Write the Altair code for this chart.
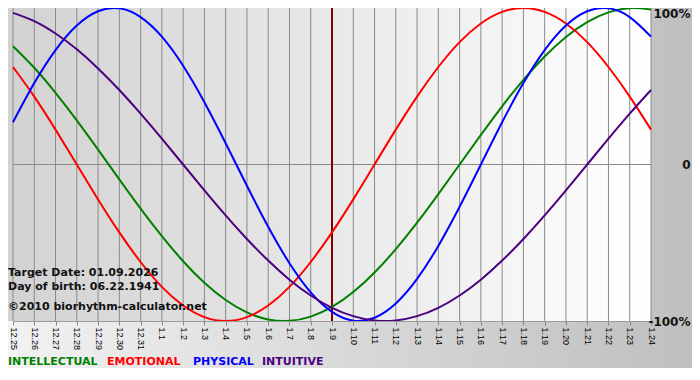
import altair as alt
import pandas as pd

# ---- data ----
day_labels = ["12.25", "12.26", "12.27", "12.28", "12.29", "12.30", "12.31",
              "1.1", "1.2", "1.3", "1.4", "1.5", "1.6", "1.7", "1.8", "1.9",
              "1.10", "1.11", "1.12", "1.13", "1.14", "1.15", "1.16", "1.17",
              "1.18", "1.19", "1.20", "1.21", "1.22", "1.23", "1.24"]

intellectual = [75.6, 61.8, 45.8, 28.2, 9.5, -9.5, -28.2, -45.8, -61.8, -75.6,
                -86.6, -94.5, -99.0, -99.9, -97.2, -91.0, -81.5, -69.0, -54.1,
                -37.2, -18.9, 0, 18.9, 37.2, 54.1, 69.0, 81.5, 91.0, 97.2, 99.9, 99.0]
emotional = [62.3, 43.4, 22.3, 0, -22.3, -43.4, -62.3, -78.2, -90.1, -97.5, -100,
             -97.5, -90.1, -78.2, -62.3, -43.4, -22.3, 0, 22.3, 43.4, 62.3, 78.2,
             90.1, 97.5, 100, 97.5, 90.1, 78.2, 62.3, 43.4, 22.3]
physical = [27.0, 52.0, 73.1, 88.8, 97.9, 99.8, 94.2, 81.7, 63.1, 39.8, 13.6,
            -13.6, -39.8, -63.1, -81.7, -94.2, -99.8, -97.9, -88.8, -73.1, -52.0,
            -27.0, 0, 27.0, 52.0, 73.1, 88.8, 97.9, 99.8, 94.2, 81.7]
intuitive = [96.9, 91.6, 83.7, 73.6, 61.4, 47.6, 32.5, 16.5, 0, -16.5, -32.5,
             -47.6, -61.4, -73.6, -83.7, -91.6, -96.9, -99.7, -99.7, -96.9, -91.6,
             -83.7, -73.6, -61.4, -47.6, -32.5, -16.5, 0, 16.5, 32.5, 47.6]

series_names = ["INTELLECTUAL", "EMOTIONAL", "PHYSICAL", "INTUITIVE"]
series_colors = ["#008000", "#ff0000", "#0000ff", "#4b0082"]
target_label = "1.9"
y_ticks = [-100, 0, 100]
info_lines = ["Target Date: 01.09.2026", "Day of birth: 06.22.1941",
              "\u00a92010 biorhythm-calculator.net"]

# ---- layout ----
PAD_L = 5
W, H = 638, 313
PAD_R, PAD_B = 41, 47
FONT = "DejaVu Sans"

rows = []
for name, vals in zip(series_names, [intellectual, emotional, physical, intuitive]):
    for i, v in enumerate(vals):
        rows.append({"idx": i, "series": name, "value": v})
lines_df = pd.DataFrame(rows)
grid_df = pd.DataFrame({"idx": list(range(len(day_labels)))})
zero_df = pd.DataFrame({"value": [0]})
target_df = pd.DataFrame({"idx": [day_labels.index(target_label)]})
one = pd.DataFrame({"a": [0]})

xscale = alt.Scale(domain=[0, len(day_labels) - 1], nice=False, zero=False)
yscale = alt.Scale(domain=[-100, 100], nice=False)

label_arr = "[" + ",".join("'%s'" % l for l in day_labels) + "]"

xaxis = alt.Axis(values=list(range(len(day_labels))),
                 labelExpr=label_arr + "[datum.value]",
                 labelAngle=90, labelFont="Liberation Sans", labelFontSize=9,
                 labelColor="#000000", labelOverlap=False, labelFlush=False,
                 labelPadding=2, tickSize=4, tickColor="#888888",
                 domainColor="#9a9a9a", grid=False, title=None, zindex=1)
yaxis = alt.Axis(orient="right", values=y_ticks,
                 labelExpr="datum.value == 0 ? '0' : datum.value + '%'",
                 labelFont=FONT, labelFontWeight="bold", labelFontSize=12,
                 labelColor="#111111", labelAlign="right",
                 labelBaseline={"expr": "datum.value == 100 ? 'top' : 'middle'"},
                 labelPadding=39, ticks=False, tickSize=0, domain=False,
                 grid=False, title=None, labelOverlap=False, labelFlush=False,
                 zindex=1)

outer_grad = alt.LinearGradient(gradient="linear", x1=0, x2=1, y1=0, y2=0,
                                stops=[alt.GradientStop(color="#f2f2f2", offset=0),
                                       alt.GradientStop(color="#bfbfbf", offset=1)])
plot_grad = alt.LinearGradient(gradient="linear", x1=0, x2=1, y1=0, y2=0,
                               stops=[alt.GradientStop(color="#d2d2d2", offset=0),
                                      alt.GradientStop(color="#ffffff", offset=1)])

outer_bg = alt.Chart(one).mark_rect(fill=outer_grad, clip=False).encode(
    x=alt.value(-PAD_L), x2=alt.value(W + PAD_R), y=alt.value(0), y2=alt.value(H + PAD_B))
plot_bg = alt.Chart(one).mark_rect(fill=plot_grad, clip=False).encode(
    x=alt.value(-PAD_L), x2=alt.value(W), y=alt.value(0), y2=alt.value(H))

grid = alt.Chart(grid_df).mark_rule(color="#8a8a8a", strokeWidth=1).encode(
    x=alt.X("idx:Q", scale=xscale, axis=xaxis))
zero = alt.Chart(zero_df).mark_rule(color="#8a8a8a", strokeWidth=1).encode(
    y=alt.Y("value:Q", scale=yscale, axis=yaxis))
target = alt.Chart(target_df).mark_rule(color="#800000", strokeWidth=2).encode(
    x=alt.X("idx:Q", scale=xscale, axis=xaxis))

lines = alt.Chart(lines_df).mark_line(strokeWidth=2, interpolate="natural").encode(
    x=alt.X("idx:Q", scale=xscale, axis=xaxis),
    y=alt.Y("value:Q", scale=yscale, axis=yaxis),
    color=alt.Color("series:N", scale=alt.Scale(domain=series_names, range=series_colors),
                    legend=None),
)

layers = [outer_bg, plot_bg, grid, zero, target, lines]

info_y = [264.5, 278.5, 299]
for txt, yy in zip(info_lines, info_y):
    layers.append(alt.Chart(one).mark_text(
        text=txt, align="left", baseline="middle", font=FONT, fontWeight="bold",
        fontSize=11, color="#111111", clip=False).encode(x=alt.value(-PAD_L), y=alt.value(yy)))

legend_x = [0, 99, 185, 254]
for name, col, xx in zip(series_names, series_colors, legend_x):
    layers.append(alt.Chart(one).mark_text(
        text=name, align="left", baseline="middle", font=FONT, fontWeight="bold",
        fontSize=11, color=col, clip=False).encode(x=alt.value(xx - PAD_L), y=alt.value(H + 41)))

chart = alt.layer(*layers).properties(
    width=W, height=H,
    autosize=alt.AutoSizeParams(type="none"),
    padding={"left": PAD_L, "top": 0, "right": PAD_R, "bottom": PAD_B},
).configure_view(stroke=None)

chart.save("out.html", embed_options={"renderer": "svg", "actions": False})
